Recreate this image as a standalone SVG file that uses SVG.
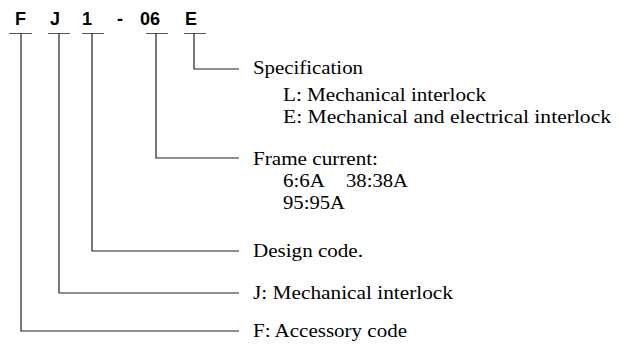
<svg xmlns="http://www.w3.org/2000/svg" width="621" height="346" viewBox="0 0 621 346">
<style>
.code{font-family:"Liberation Sans",Arial,sans-serif;font-weight:bold;font-size:18px;fill:#000}
.lbl{font-family:"Liberation Serif","Times New Roman",serif;font-size:18.5px;fill:#000}
.ul{stroke:#555;stroke-width:1.2;fill:none}
.ln{stroke:#222;stroke-width:1.2;fill:none}
</style>
<rect width="621" height="346" fill="#fff"/>
<g id="code">
<text class="code" x="15" y="25">F</text>
<text class="code" x="50" y="25">J</text>
<text class="code" x="82" y="25">1</text>
<text class="code" x="117" y="25">-</text>
<text class="code" x="140" y="25">06</text>
<text class="code" x="185" y="25">E</text>
</g>
<g id="connectors">
<path class="ul" d="M9 33.5H32M48 33.5H70M82 33.5H104M146 33.5H168M184 33.5H206"/>
<path class="ln" d="M21 33.5V331H239"/>
<path class="ln" d="M59 33.5V293H239"/>
<path class="ln" d="M92 33.5V251H239"/>
<path class="ln" d="M156 33.5V158H239"/>
<path class="ln" d="M194 33.5V69H239"/>
</g>
<g id="spec">
<text class="lbl" x="253" y="74" textLength="110" lengthAdjust="spacingAndGlyphs">Specification</text>
<text class="lbl" x="283" y="101" textLength="203" lengthAdjust="spacingAndGlyphs">L: Mechanical interlock</text>
<text class="lbl" x="283" y="123" textLength="328" lengthAdjust="spacingAndGlyphs">E: Mechanical and electrical interlock</text>
</g>
<g id="frame">
<text class="lbl" x="253" y="165" textLength="125" lengthAdjust="spacingAndGlyphs">Frame current:</text>
<text class="lbl" x="283" y="187" textLength="42" lengthAdjust="spacingAndGlyphs">6:6A</text>
<text class="lbl" x="346" y="187" textLength="62" lengthAdjust="spacingAndGlyphs">38:38A</text>
<text class="lbl" x="283" y="209" textLength="62" lengthAdjust="spacingAndGlyphs">95:95A</text>
</g>
<g id="design">
<text class="lbl" x="253" y="257" textLength="110" lengthAdjust="spacingAndGlyphs">Design code.</text>
</g>
<g id="interlock">
<text class="lbl" x="253" y="299" textLength="200" lengthAdjust="spacingAndGlyphs">J: Mechanical interlock</text>
</g>
<g id="accessory">
<text class="lbl" x="253" y="337" textLength="154" lengthAdjust="spacingAndGlyphs">F: Accessory code</text>
</g>
</svg>
